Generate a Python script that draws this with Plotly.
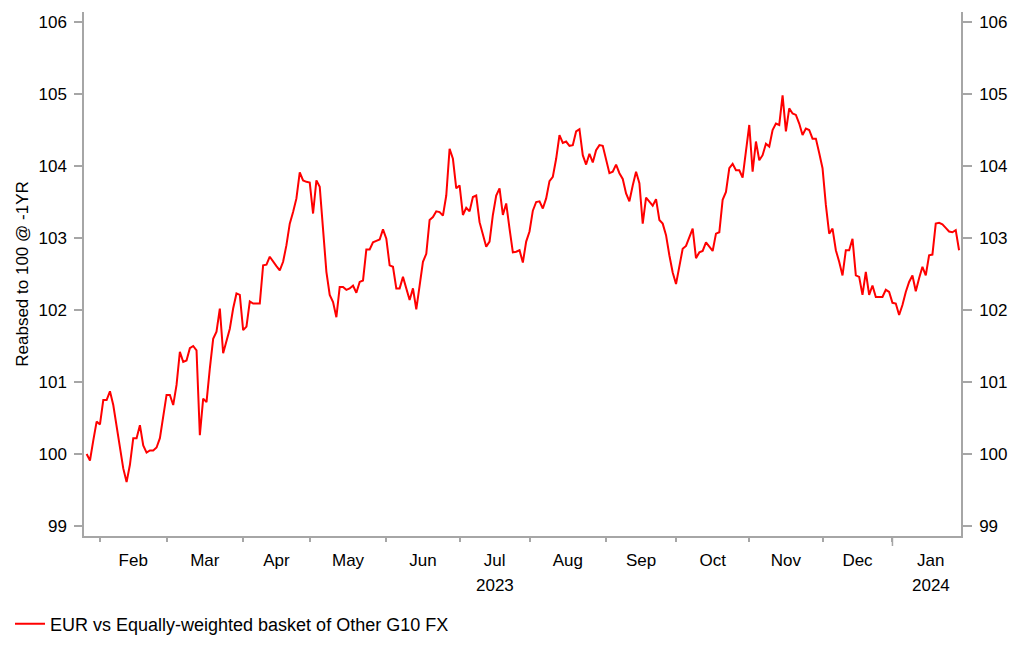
import pandas as pd
import plotly.graph_objects as go

# ---- data ----
start_date = "2023-01-26"
values = [
    100.00, 99.91, 100.19, 100.45, 100.41, 100.75, 100.75, 100.87, 100.68, 100.40,
    100.12, 99.80, 99.61, 99.85, 100.22, 100.22, 100.40, 100.12, 100.02, 100.05,
    100.05, 100.09, 100.22, 100.49, 100.82, 100.82, 100.68, 100.96, 101.42, 101.28,
    101.30, 101.47, 101.50, 101.44, 100.26, 100.77, 100.72, 101.19, 101.60, 101.70,
    102.02, 101.40, 101.56, 101.74, 102.02, 102.23, 102.21,
    101.72, 101.77, 102.12, 102.09, 102.09, 102.09, 102.62, 102.63, 102.74, 102.67,
    102.61, 102.55, 102.67, 102.90, 103.20, 103.36, 103.55, 103.91, 103.80, 103.78,
    103.77, 103.34, 103.80, 103.71, 103.09, 102.53, 102.21, 102.11, 101.90, 102.32,
    102.32, 102.28, 102.30, 102.34, 102.24, 102.39, 102.41, 102.84, 102.84, 102.94,
    102.96, 102.98, 103.12, 102.99, 102.62,
    102.60, 102.30, 102.30, 102.46, 102.30, 102.14, 102.30, 102.01, 102.34, 102.67,
    102.78, 103.25, 103.29, 103.37, 103.36, 103.31, 103.59, 104.24, 104.10, 103.69,
    103.73, 103.32, 103.42, 103.37, 103.57, 103.59, 103.22, 103.06, 102.88, 102.95,
    103.32, 103.59, 103.69, 103.32, 103.48, 103.13, 102.80, 102.81, 102.83, 102.66,
    102.95, 103.09, 103.38, 103.50, 103.51,
    103.41, 103.55, 103.79, 103.85, 104.10, 104.43, 104.32, 104.34, 104.28, 104.29,
    104.48, 104.51, 104.15, 104.02, 104.17, 104.05, 104.22, 104.29, 104.28, 104.10,
    103.90, 103.92, 104.02, 103.90, 103.82, 103.62, 103.51, 103.73, 103.92, 103.76,
    103.20, 103.56, 103.50, 103.45, 103.54, 103.25, 103.20, 103.04, 102.76, 102.52,
    102.36, 102.63,
    102.85, 102.89, 103.00, 103.13, 102.72, 102.80, 102.82, 102.94, 102.88, 102.82,
    103.06, 103.08, 103.53, 103.64, 103.97, 104.03, 103.94, 103.94, 103.84, 104.20,
    104.57, 103.92, 104.34, 104.08, 104.15, 104.31, 104.27, 104.50, 104.59, 104.57,
    104.98, 104.48, 104.80, 104.73, 104.71, 104.59, 104.43, 104.52, 104.50, 104.38,
    104.38, 104.18,
    103.97, 103.46, 103.06, 103.13, 102.83, 102.67, 102.48, 102.83, 102.83, 102.99,
    102.48, 102.46, 102.21, 102.53, 102.21, 102.34, 102.18, 102.18, 102.18, 102.28,
    102.25, 102.10, 102.09, 101.93, 102.07, 102.25, 102.39, 102.48, 102.26, 102.44,
    102.60, 102.48, 102.76, 102.77, 103.20, 103.21, 103.19, 103.14, 103.09, 103.08,
    103.11, 102.83,
]
series_name = "EUR vs Equally-weighted basket of Other G10 FX"
y_title = "Reabsed to 100 @ -1YR"
y_ticks = [99, 100, 101, 102, 103, 104, 105, 106]
month_labels = ["Feb", "Mar", "Apr", "May", "Jun", "Jul", "Aug", "Sep",
                "Oct", "Nov", "Dec", "Jan"]
year_labels = ["2023", "2024"]
year_label_months = ["2023-07", "2024-01"]

# ---- derived positions ----
dates = pd.bdate_range(start_date, periods=len(values))
month_starts = pd.bdate_range("2023-02-01", "2024-03-01", freq="BMS")

mids = []
for i in range(len(month_labels)):
    s, e = month_starts[i], month_starts[i + 1]
    days = pd.bdate_range(s, e - pd.Timedelta(days=1))
    n = len(days)
    mid = days[n // 2] + pd.Timedelta(hours=24 * (n / 2 - n // 2))
    mids.append(mid)

x_start = dates[0] - pd.Timedelta(hours=19)
x_end = dates[-1] + pd.Timedelta(hours=14)

FONT = "Liberation Sans, Arial, sans-serif"
TXT = "#000000"
AX = "#a6a6a6"
YMIN, YMAX = 98.861, 106.139
PLOT_H = 524
PLOT_W = 877

fig = go.Figure()
fig.add_trace(go.Scatter(
    x=dates, y=values, mode="lines", name=series_name,
    line=dict(color="#ff0000", width=2), yaxis="y",
))
fig.add_trace(go.Scatter(
    x=dates, y=values, mode="lines", showlegend=False, hoverinfo="skip",
    line=dict(color="rgba(0,0,0,0)", width=0), yaxis="y2",
))

# the page body has an 8px default margin, so the figure is sized to fit inside it
fig.update_layout(
    width=1006, height=640,
    margin=dict(l=76, r=53, t=4, b=112, autoexpand=False),
    paper_bgcolor="white", plot_bgcolor="white",
    font=dict(family=FONT, size=17, color=TXT),
    showlegend=True,
    legend=dict(orientation="h", x=-74 / PLOT_W, xanchor="left", y=-88 / PLOT_H, yanchor="middle",
                font=dict(size=18, color=TXT), bgcolor="rgba(0,0,0,0)"),
    xaxis=dict(
        type="date", range=[x_start, x_end], automargin=False,
        rangebreaks=[dict(bounds=["sat", "mon"])],
        tickmode="array", tickvals=mids, ticktext=month_labels,
        ticks="", ticklabelstandoff=8,
        showline=True, linecolor=AX, linewidth=1.5, showgrid=False, zeroline=False,
        tickfont=dict(size=17, color=TXT),
        minor=dict(tickmode="array", tickvals=list(month_starts[:len(month_labels)]),
                   ticks="outside", ticklen=4, tickcolor=AX, tickwidth=1.5, showgrid=False),
    ),
    yaxis=dict(
        range=[YMIN, YMAX], tickmode="array", tickvals=y_ticks, automargin=False,
        ticks="outside", ticklen=8, tickcolor=AX, tickwidth=1.5,
        showline=True, linecolor=AX, linewidth=1.5, showgrid=False, zeroline=False,
        tickfont=dict(size=17, color=TXT), ticklabelstandoff=4,
        title=dict(text=y_title, font=dict(size=17, color=TXT), standoff=6),
    ),
    yaxis2=dict(
        range=[YMIN, YMAX], overlaying="y", side="right", anchor="x", automargin=False,
        tickmode="array", tickvals=y_ticks,
        ticks="outside", ticklen=9, tickcolor=AX, tickwidth=1.5,
        showline=True, linecolor=AX, linewidth=1.5, showgrid=False, zeroline=False,
        tickfont=dict(size=17, color=TXT), ticklabelstandoff=4,
    ),
)

# longer tick at the year boundary
fig.add_shape(type="line", xref="x", yref="paper",
              x0=month_starts[11], x1=month_starts[11], y0=0, y1=-10 / PLOT_H,
              line=dict(color=AX, width=1.5))

# year labels under Jul and Jan
for lab, m in zip(year_labels, year_label_months):
    idx = [i for i, s in enumerate(month_starts[:len(month_labels)]) if s.strftime("%Y-%m") == m][0]
    fig.add_annotation(x=mids[idx], y=-49 / PLOT_H, xref="x", yref="paper",
                       text=lab, showarrow=False, yanchor="middle",
                       font=dict(size=17, color=TXT, family=FONT))

fig.write_html("out.html")
